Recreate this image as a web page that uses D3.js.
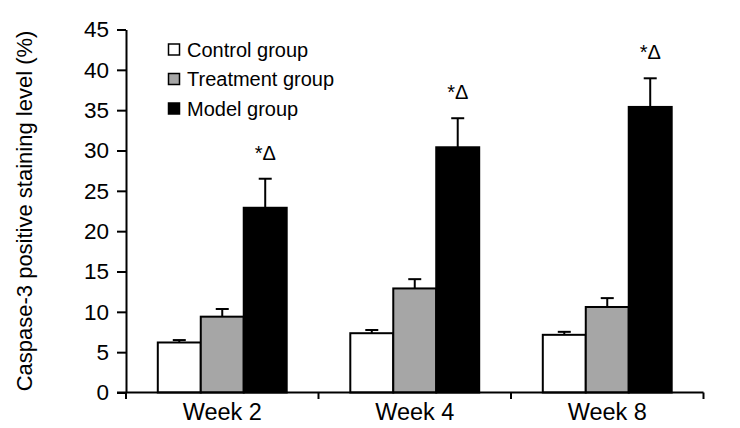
<!DOCTYPE html>
<html>
<head>
<meta charset="utf-8">
<script src="https://cdn.jsdelivr.net/npm/d3@7/dist/d3.min.js"></script>
<style>
  html, body { margin: 0; padding: 0; background: #fff; }
  svg { display: block; font-family: "Liberation Sans", Arial, Helvetica, sans-serif; }
</style>
</head>
<body>
<svg id="chart" width="740" height="428"></svg>
<script>
// ---- data ----
const weeks = ["Week 2", "Week 4", "Week 8"];
const groups = ["Control group", "Treatment group", "Model group"];
const controlMean = [6.2, 7.35, 7.15];
const controlErr = [0.3, 0.4, 0.37];
const treatmentMean = [9.4, 12.9, 10.6];
const treatmentErr = [0.95, 1.15, 1.1];
const modelMean = [22.9, 30.4, 35.4];
const modelErr = [3.6, 3.6, 3.55];
const sigLabels = ["", "", "*Δ"];
const yTicks = [0, 5, 10, 15, 20, 25, 30, 35, 40, 45];
const yTitle = "Caspase-3 positive staining level (%)";

const fills = ["#ffffff", "#a6a6a6", "#000000"];
const means = [controlMean, treatmentMean, modelMean];
const errs = [controlErr, treatmentErr, modelErr];

const rows = [];
weeks.forEach((w, i) => {
  groups.forEach((g, j) => {
    rows.push({ week: w, group: g, gi: j, value: means[j][i], err: errs[j][i], sig: sigLabels[j] });
  });
});

// ---- layout ----
const svg = d3.select("#chart");
const x0 = d3.scaleBand().domain(weeks).range([126, 703.5]).paddingInner(0).paddingOuter(0);
const x1 = d3.scaleBand().domain(groups).range([0, x0.bandwidth()]).paddingInner(0).paddingOuter(0.74);
const y = d3.scaleLinear().domain([0, 45]).range([392.5, 29.5]);

// bars
const bars = svg.append("g");
bars.selectAll("rect").data(rows).join("rect")
  .attr("x", d => x0(d.week) + x1(d.group))
  .attr("y", d => y(d.value))
  .attr("width", x1.bandwidth())
  .attr("height", d => y(0) - y(d.value))
  .attr("fill", d => fills[d.gi])
  .attr("stroke", "#000")
  .attr("stroke-width", 2);

// error bars (upward only)
const eb = svg.append("g").attr("stroke", "#000").attr("stroke-width", 2);
rows.forEach(d => {
  const cx = x0(d.week) + x1(d.group) + x1.bandwidth() / 2;
  eb.append("line").attr("x1", cx).attr("x2", cx).attr("y1", y(d.value)).attr("y2", y(d.value + d.err));
  eb.append("line").attr("x1", cx - 6.5).attr("x2", cx + 6.5).attr("y1", y(d.value + d.err)).attr("y2", y(d.value + d.err));
});

// significance labels
svg.append("g").selectAll("text").data(rows.filter(d => d.sig)).join("text")
  .attr("x", d => x0(d.week) + x1(d.group) + x1.bandwidth() / 2)
  .attr("y", d => y(d.value + d.err) - 19)
  .attr("text-anchor", "middle")
  .attr("font-size", 20)
  .attr("fill", "#000")
  .text(d => d.sig);

// y axis
const yAxis = svg.append("g").attr("transform", "translate(126,0)")
  .call(d3.axisLeft(y).tickValues(yTicks).tickSize(9).tickPadding(8).tickSizeOuter(0));
yAxis.select(".domain").attr("stroke", "#000").attr("stroke-width", 2);
yAxis.selectAll(".tick line").attr("stroke", "#000").attr("stroke-width", 2);
yAxis.selectAll(".tick text").attr("font-size", 22.5).attr("fill", "#000")
  .attr("font-family", "'Liberation Sans', Arial, sans-serif");

// x axis
const xAxis = svg.append("g").attr("transform", "translate(0,392.5)");
xAxis.append("line").attr("x1", 117).attr("x2", 703.5).attr("y1", 0).attr("y2", 0)
  .attr("stroke", "#000").attr("stroke-width", 2);
const bounds = weeks.map(w => x0(w)).concat([x0(weeks[weeks.length - 1]) + x0.bandwidth()]);
xAxis.selectAll("line.b").data(bounds).join("line").attr("class", "b")
  .attr("x1", d => d).attr("x2", d => d).attr("y1", 0).attr("y2", 6.5)
  .attr("stroke", "#000").attr("stroke-width", 2);
xAxis.selectAll("text").data(weeks).join("text")
  .attr("x", d => x0(d) + x0.bandwidth() / 2)
  .attr("y", 27.5)
  .attr("text-anchor", "middle")
  .attr("font-size", 23.5)
  .attr("fill", "#000")
  .text(d => d);

// y title
svg.append("text")
  .attr("transform", `translate(24,${(y(0) + y(45)) / 2}) rotate(-90)`)
  .attr("text-anchor", "middle")
  .attr("dominant-baseline", "central")
  .attr("font-size", 22)
  .attr("fill", "#000")
  .text(yTitle);

// legend
const legend = svg.append("g");
const legY = [49.5, 79, 108.5];
groups.forEach((g, j) => {
  legend.append("rect").attr("x", 168.5).attr("y", legY[j] - 5.5).attr("width", 11).attr("height", 11)
    .attr("fill", fills[j]).attr("stroke", "#000").attr("stroke-width", 1.5);
  legend.append("text").attr("x", 187).attr("y", legY[j]).attr("dominant-baseline", "central")
    .attr("font-size", 20).attr("fill", "#000").text(g);
});
</script>
</body>
</html>
